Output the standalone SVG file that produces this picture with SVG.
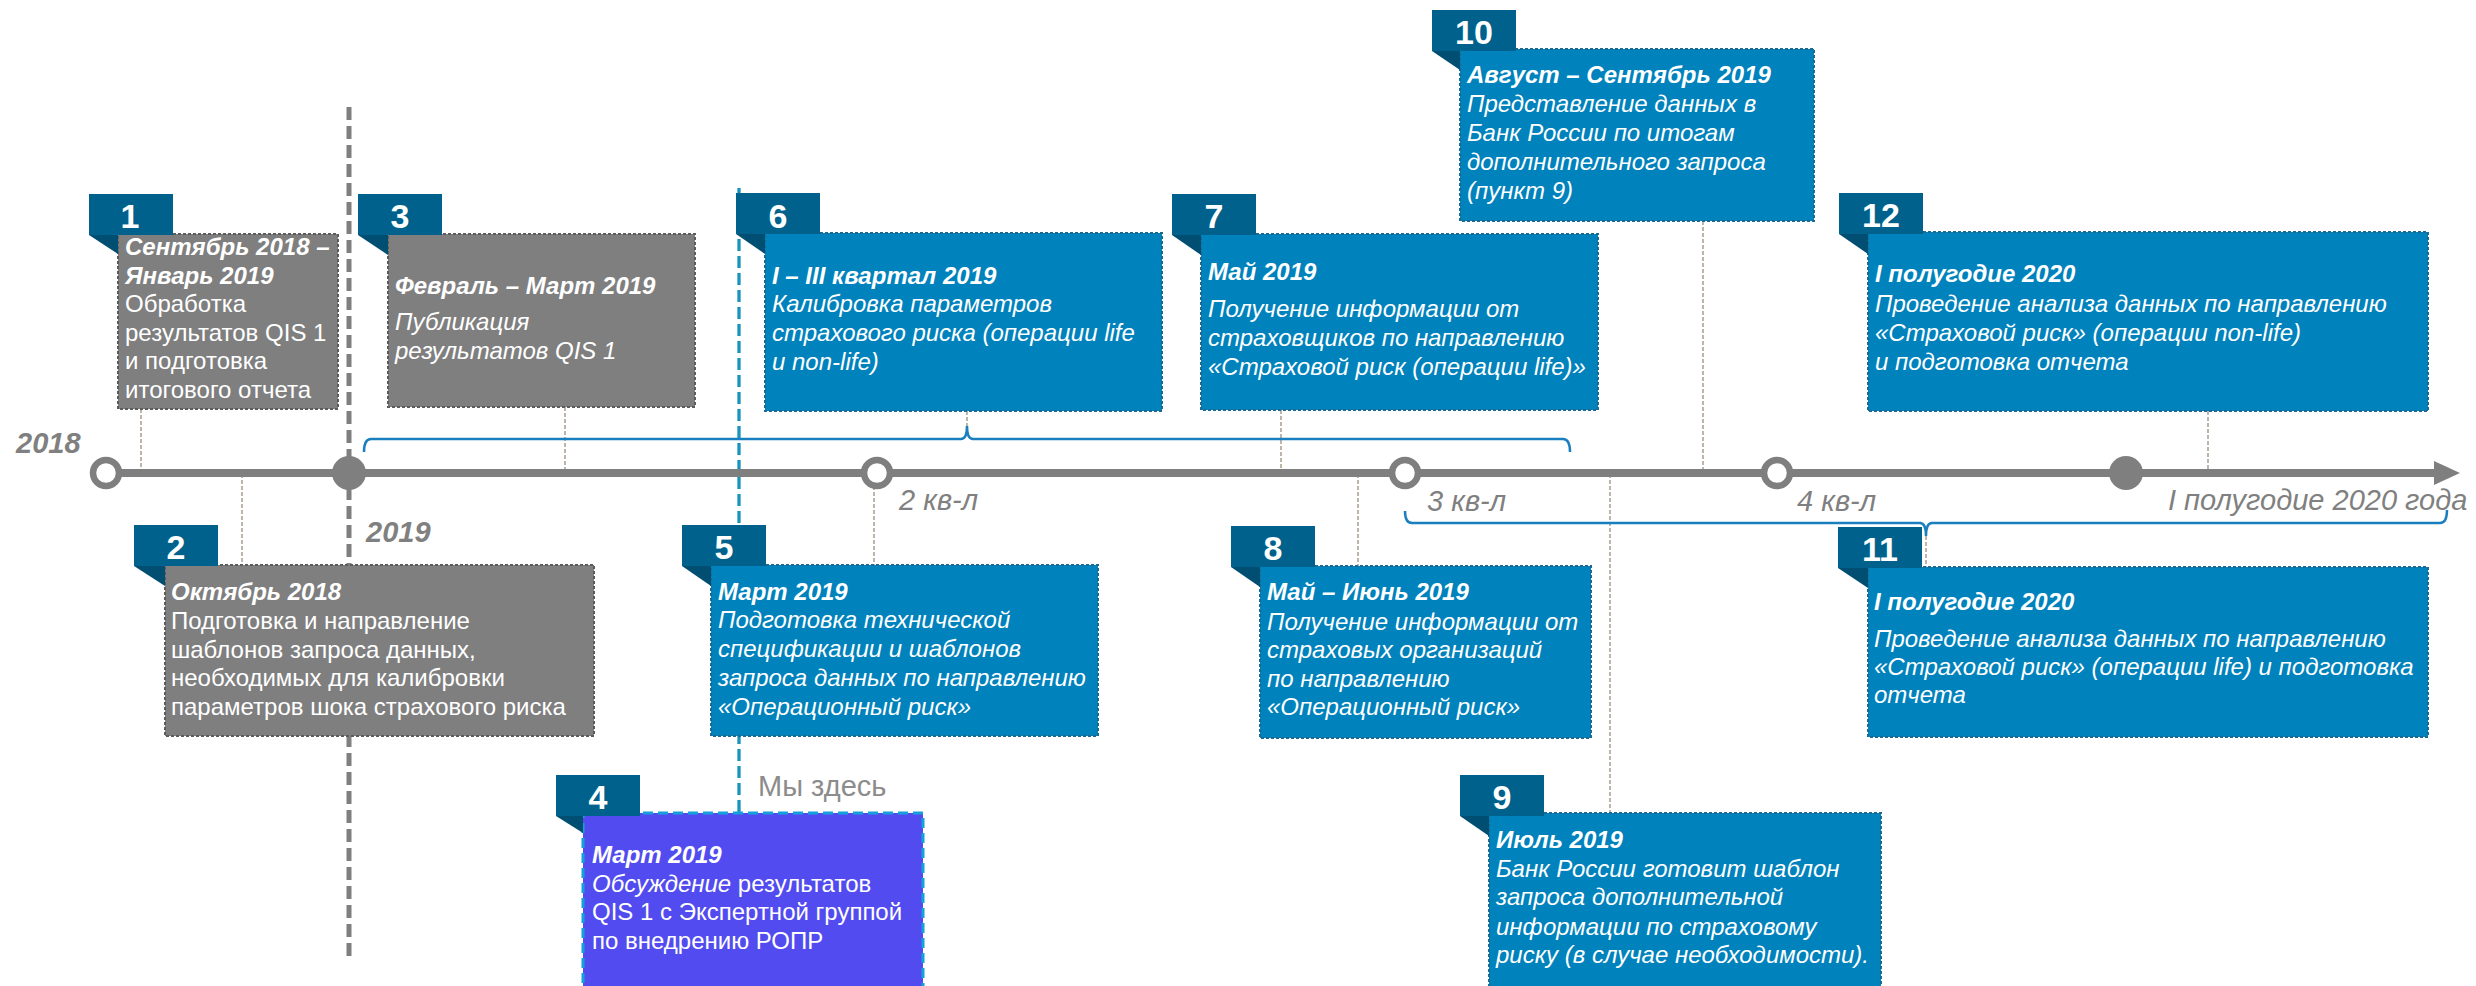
<svg xmlns="http://www.w3.org/2000/svg" width="2476" height="986" viewBox="0 0 2476 986">
<style>
  text { font-family: "Liberation Sans", Arial, sans-serif; }
  .box-blue { fill: #0082bc; stroke: #1a6a94; stroke-width: 2; stroke-dasharray: 3 2; }
  .box-gray { fill: #7f7f7f; stroke: #5c5c5c; stroke-width: 2; stroke-dasharray: 3 2; }
  .box-now { fill: #524cf0; stroke: #14a0da; stroke-width: 3; stroke-dasharray: 10 5; }
  .tab { fill: #00628c; }
  .fold { fill: #004e72; }
  .num { font-size: 34px; font-weight: bold; fill: #ffffff; text-anchor: middle; }
  .body { font-size: 24px; fill: #ffffff; }
  .h { font-weight: bold; font-style: italic; }
  .i { font-style: italic; }
  .axis-label { font-size: 29px; font-style: italic; fill: #808080; }
  .year { font-size: 29px; font-style: italic; font-weight: bold; fill: #808080; }
  .tick { stroke: #9c8e7e; stroke-width: 1.3; stroke-dasharray: 4 2; fill: none; }
  .brace { stroke: #1a7fbf; stroke-width: 2.5; fill: none; }
</style>

<!-- leader lines from the event boxes to the time axis -->
<g id="connectors">
  <line class="tick" x1="141" y1="409" x2="141" y2="470"/>
  <line class="tick" x1="242" y1="474" x2="242" y2="565"/>
  <line class="tick" x1="565" y1="407" x2="565" y2="470"/>
  <line class="tick" x1="874" y1="474" x2="874" y2="565"/>
  <line class="tick" x1="967" y1="411" x2="967" y2="427"/>
  <line class="tick" x1="1281" y1="410" x2="1281" y2="470"/>
  <line class="tick" x1="1358" y1="474" x2="1358" y2="566"/>
  <line class="tick" x1="1610" y1="474" x2="1610" y2="813"/>
  <line class="tick" x1="1703" y1="221" x2="1703" y2="470"/>
  <line class="tick" x1="1926" y1="536" x2="1926" y2="567"/>
  <line class="tick" x1="2208" y1="411" x2="2208" y2="470"/>
  <!-- braces spanning several quarters -->
  <path class="brace" d="M364,452 Q364,439 371,439 L961,439 Q967,439 967,426 Q967,439 973,439 L1563,439 Q1570,439 1570,452"/>
  <path class="brace" d="M1405,511 Q1405,523 1412,523 L1920,523 Q1926,523 1926,536 Q1926,523 1932,523 L2440,523 Q2447,523 2447,510"/>
  <!-- year boundary and "current date" markers -->
  <line x1="349" y1="107" x2="349" y2="957" stroke="#7f7f7f" stroke-width="5" stroke-dasharray="13 6"/>
  <line x1="739" y1="188" x2="739" y2="813" stroke="#1a93bd" stroke-width="3.3" stroke-dasharray="12 5"/>
</g>

<!-- time axis -->
<g id="axis">
  <line x1="106" y1="473" x2="2438" y2="473" stroke="#7f7f7f" stroke-width="8"/>
  <polygon points="2434,461 2460,473 2434,485" fill="#7f7f7f"/>
  <circle cx="106" cy="473" r="13" fill="#ffffff" stroke="#7f7f7f" stroke-width="6.5"/>
  <circle cx="349" cy="473" r="17" fill="#7f7f7f"/>
  <circle cx="877" cy="473" r="13" fill="#ffffff" stroke="#7f7f7f" stroke-width="6.5"/>
  <circle cx="1405" cy="473" r="13" fill="#ffffff" stroke="#7f7f7f" stroke-width="6.5"/>
  <circle cx="1777" cy="473" r="13" fill="#ffffff" stroke="#7f7f7f" stroke-width="6.5"/>
  <circle cx="2126" cy="473" r="17" fill="#7f7f7f"/>
  <text class="year" x="16" y="453">2018</text>
  <text class="year" x="366" y="542">2019</text>
  <text class="axis-label" x="899" y="510">2 кв-л</text>
  <text class="axis-label" x="1427" y="511">3 кв-л</text>
  <text class="axis-label" x="1797" y="511">4 кв-л</text>
  <text class="axis-label" x="2168" y="510">I полугодие 2020 года</text>
  <text x="758" y="796" font-size="29" fill="#8c8c8c">Мы здесь</text>
</g>

<!-- 1 -->
<g id="node-1">
  <rect class="box-gray" x="118" y="234" width="220" height="175"/>
  <rect class="tab" x="89" y="194" width="84" height="41"/>
  <polygon class="fold" points="89,235 118,235 118,254"/>
  <text class="num" x="130" y="228">1</text>
  <text class="body">
    <tspan class="h" x="125" y="255">Сентябрь 2018 –</tspan>
    <tspan class="h" x="125" y="284">Январь 2019</tspan>
    <tspan x="125" y="312">Обработка</tspan>
    <tspan x="125" y="341">результатов QIS 1</tspan>
    <tspan x="125" y="369">и подготовка</tspan>
    <tspan x="125" y="398">итогового отчета</tspan>
  </text>
</g>

<!-- 2 -->
<g id="node-2">
  <rect class="box-gray" x="165" y="565" width="429" height="171"/>
  <rect class="tab" x="134" y="525" width="84" height="41"/>
  <polygon class="fold" points="134,566 165,566 165,586"/>
  <text class="num" x="176" y="559">2</text>
  <text class="body">
    <tspan class="h" x="171" y="600">Октябрь 2018</tspan>
    <tspan x="171" y="629">Подготовка и направление</tspan>
    <tspan x="171" y="658">шаблонов запроса данных,</tspan>
    <tspan x="171" y="686">необходимых для калибровки</tspan>
    <tspan x="171" y="715">параметров шока страхового риска</tspan>
  </text>
</g>

<!-- 3 -->
<g id="node-3">
  <rect class="box-gray" x="388" y="234" width="307" height="173"/>
  <rect class="tab" x="358" y="194" width="84" height="41"/>
  <polygon class="fold" points="358,235 388,235 388,255"/>
  <text class="num" x="400" y="228">3</text>
  <text class="body">
    <tspan class="h" x="395" y="294">Февраль – Март 2019</tspan>
    <tspan class="i" x="395" y="330">Публикация</tspan>
    <tspan class="i" x="395" y="359">результатов QIS 1</tspan>
  </text>
</g>

<!-- 4 -->
<g id="node-4">
  <rect class="box-now" x="583" y="813" width="340" height="180"/>
  <rect class="tab" x="556" y="775" width="84" height="41"/>
  <polygon class="fold" points="556,816 583,816 583,833"/>
  <text class="num" x="598" y="809">4</text>
  <text class="body">
    <tspan class="h" x="592" y="863">Март 2019</tspan>
    <tspan class="i" x="592" y="892">Обсуждение</tspan><tspan> результатов</tspan>
    <tspan x="592" y="920">QIS 1 с Экспертной группой</tspan>
    <tspan x="592" y="949">по внедрению РОПР</tspan>
  </text>
</g>

<!-- 5 -->
<g id="node-5">
  <rect class="box-blue" x="711" y="565" width="387" height="171"/>
  <rect class="tab" x="682" y="525" width="84" height="41"/>
  <polygon class="fold" points="682,566 711,566 711,586"/>
  <text class="num" x="724" y="559">5</text>
  <text class="body">
    <tspan class="h" x="718" y="600">Март 2019</tspan>
    <tspan class="i" x="718" y="628">Подготовка технической</tspan>
    <tspan class="i" x="718" y="657">спецификации и шаблонов</tspan>
    <tspan class="i" x="718" y="686">запроса данных по направлению</tspan>
    <tspan class="i" x="718" y="715">«Операционный риск»</tspan>
  </text>
</g>

<!-- 6 -->
<g id="node-6">
  <rect class="box-blue" x="765" y="233" width="397" height="178"/>
  <rect class="tab" x="736" y="193" width="84" height="41"/>
  <polygon class="fold" points="736,234 765,234 765,254"/>
  <text class="num" x="778" y="228">6</text>
  <text class="body">
    <tspan class="h" x="772" y="284">I – III квартал 2019</tspan>
    <tspan class="i" x="772" y="312">Калибровка параметров</tspan>
    <tspan class="i" x="772" y="341">страхового риска (операции life</tspan>
    <tspan class="i" x="772" y="370">и non-life)</tspan>
  </text>
</g>

<!-- 7 -->
<g id="node-7">
  <rect class="box-blue" x="1201" y="234" width="397" height="176"/>
  <rect class="tab" x="1172" y="194" width="84" height="41"/>
  <polygon class="fold" points="1172,235 1201,235 1201,255"/>
  <text class="num" x="1214" y="228">7</text>
  <text class="body">
    <tspan class="h" x="1208" y="280">Май 2019</tspan>
    <tspan class="i" x="1208" y="317">Получение информации от</tspan>
    <tspan class="i" x="1208" y="346">страховщиков по направлению</tspan>
    <tspan class="i" x="1208" y="375">«Страховой риск (операции life)»</tspan>
  </text>
</g>

<!-- 8 -->
<g id="node-8">
  <rect class="box-blue" x="1260" y="566" width="331" height="172"/>
  <rect class="tab" x="1231" y="526" width="84" height="41"/>
  <polygon class="fold" points="1231,567 1260,567 1260,587"/>
  <text class="num" x="1273" y="560">8</text>
  <text class="body">
    <tspan class="h" x="1267" y="600">Май – Июнь 2019</tspan>
    <tspan class="i" x="1267" y="630">Получение информации от</tspan>
    <tspan class="i" x="1267" y="658">страховых организаций</tspan>
    <tspan class="i" x="1267" y="687">по направлению</tspan>
    <tspan class="i" x="1267" y="715">«Операционный риск»</tspan>
  </text>
</g>

<!-- 9 -->
<g id="node-9">
  <rect class="box-blue" x="1489" y="813" width="392" height="180"/>
  <rect class="tab" x="1460" y="775" width="84" height="41"/>
  <polygon class="fold" points="1460,816 1489,816 1489,836"/>
  <text class="num" x="1502" y="809">9</text>
  <text class="body">
    <tspan class="h" x="1496" y="848">Июль 2019</tspan>
    <tspan class="i" x="1496" y="877">Банк России готовит шаблон</tspan>
    <tspan class="i" x="1496" y="905">запроса дополнительной</tspan>
    <tspan class="i" x="1496" y="935">информации по страховому</tspan>
    <tspan class="i" x="1496" y="963">риску (в случае необходимости).</tspan>
  </text>
</g>

<!-- 10 -->
<g id="node-10">
  <rect class="box-blue" x="1460" y="49" width="354" height="172"/>
  <rect class="tab" x="1432" y="10" width="84" height="41"/>
  <polygon class="fold" points="1432,51 1460,51 1460,70"/>
  <text class="num" x="1474" y="44">10</text>
  <text class="body">
    <tspan class="h" x="1467" y="83">Август – Сентябрь 2019</tspan>
    <tspan class="i" x="1467" y="112">Представление данных в</tspan>
    <tspan class="i" x="1467" y="141">Банк России по итогам</tspan>
    <tspan class="i" x="1467" y="170">дополнительного запроса</tspan>
    <tspan class="i" x="1467" y="199">(пункт 9)</tspan>
  </text>
</g>

<!-- 11 -->
<g id="node-11">
  <rect class="box-blue" x="1868" y="567" width="560" height="170"/>
  <rect class="tab" x="1838" y="527" width="84" height="41"/>
  <polygon class="fold" points="1838,568 1868,568 1868,588"/>
  <text class="num" x="1880" y="561">11</text>
  <text class="body">
    <tspan class="h" x="1874" y="610">I полугодие 2020</tspan>
    <tspan class="i" x="1874" y="647">Проведение анализа данных по направлению</tspan>
    <tspan class="i" x="1874" y="675">«Страховой риск» (операции life) и подготовка</tspan>
    <tspan class="i" x="1874" y="703">отчета</tspan>
  </text>
</g>

<!-- 12 -->
<g id="node-12">
  <rect class="box-blue" x="1868" y="232" width="560" height="179"/>
  <rect class="tab" x="1839" y="193" width="84" height="41"/>
  <polygon class="fold" points="1839,234 1868,234 1868,254"/>
  <text class="num" x="1881" y="227">12</text>
  <text class="body">
    <tspan class="h" x="1875" y="282">I полугодие 2020</tspan>
    <tspan class="i" x="1875" y="312">Проведение анализа данных по направлению</tspan>
    <tspan class="i" x="1875" y="341">«Страховой риск» (операции non-life)</tspan>
    <tspan class="i" x="1875" y="370">и подготовка отчета</tspan>
  </text>
</g>
</svg>
